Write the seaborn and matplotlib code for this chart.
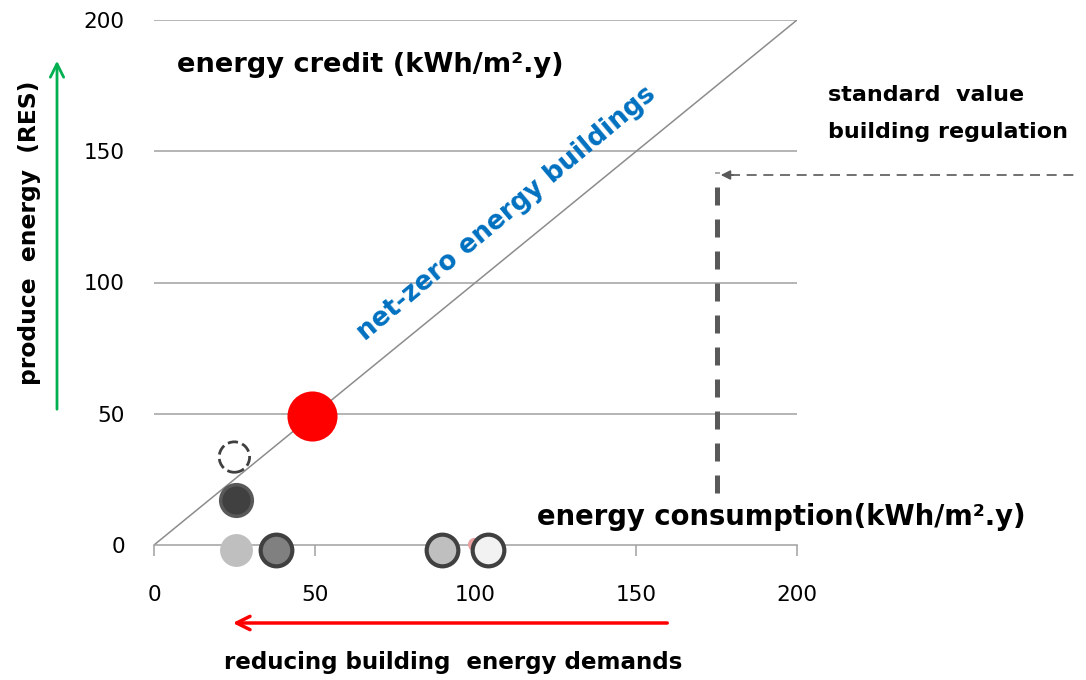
import matplotlib
matplotlib.use('Agg')
import matplotlib.pyplot as plt
from matplotlib.lines import Line2D
import seaborn as sns
import pandas as pd

# consumo x produção de energia (kWh/m2.y)
consumo = [49, 25, 25.5, 25.5, 38, 89.5, 99.5, 103.8]
producao = [49, 33.5, 17, -2, -2, -2, 0.5, -2]
ticks = [0, 50, 100, 150, 200]
diagonal = [0, 200]
regulacao_x = [175, 175]
regulacao_y = [20, 142]

# estilo de cada ponto (mesma ordem dos dados)
cores = ['#ff0000', 'none', '#404040', '#bfbfbf', '#808080', '#bfbfbf', '#eaa0a0', '#f2f2f2']
bordas = ['#ff0000', '#404040', '#595959', '#bfbfbf', '#404040', '#404040', '#eaa0a0', '#404040']
tamanhos = [1300, 480, 520, 560, 520, 520, 90, 520]
larguras = [0, 2, 2.5, 0, 3, 3, 0, 3]
tracos = ['-', '--', '-', '-', '-', '-', '-', '-']

W, H = 1086, 680

sns.set_theme(style='white')
plt.rcParams['font.family'] = ['DejaVu Sans']
plt.rcParams['text.color'] = 'black'

fig = plt.figure(figsize=(W / 100, H / 100), dpi=100)
ax = fig.add_axes([154 / W, 1 - 545 / H, (797 - 154) / W, (545 - 20) / H])

sns.lineplot(x=diagonal, y=diagonal, color='#8c8c8c', linewidth=1.1, ax=ax, zorder=2)
sns.lineplot(x=regulacao_x, y=regulacao_y, sort=False, estimator=None, color='#595959',
             linewidth=3.6, ax=ax, zorder=3)
ax.lines[-1].set_dashes((3.6, 2.8))

df = pd.DataFrame({'consumo': consumo, 'producao': producao})
for i in range(len(df)):
    sns.scatterplot(data=df.iloc[[i]], x='consumo', y='producao', s=tamanhos[i],
                    color=cores[i], edgecolor=bordas[i], linewidth=larguras[i],
                    linestyle=tracos[i], ax=ax, zorder=5 + (0 if i == 6 else 1), clip_on=False)

ax.set_xlim(0, 200)
ax.set_ylim(0, 200)
ax.set_xticks(ticks)
ax.set_yticks(ticks)
ax.set_xlabel('')
ax.set_ylabel('')
for y in ticks[1:]:
    ax.axhline(y, color='#a0a0a0', linewidth=1.1, zorder=1)
for s in ['top', 'right', 'left']:
    ax.spines[s].set_visible(False)
ax.spines['bottom'].set_color('#a0a0a0')
ax.spines['bottom'].set_linewidth(1.1)
ax.tick_params(axis='x', direction='out', length=8, width=1.1, color='#a0a0a0', pad=21,
               labelsize=15.5, labelcolor='black', bottom=True)
ax.tick_params(axis='y', length=0, pad=21, labelsize=15.5, labelcolor='black')


def texto(x, y, s, **kw):
    fig.text(x / W, 1 - y / H, s, fontweight='bold', **kw)


texto(177, 65, 'energy credit (kWh/m\u00b2.y)', fontsize=19.6, va='center', ha='left')
texto(828, 95, 'standard  value', fontsize=16, va='center', ha='left')
texto(828, 132, 'building regulation', fontsize=16, va='center', ha='left')
texto(537, 517, 'energy consumption(kWh/m\u00b2.y)', fontsize=19.8, va='center', ha='left')
texto(507, 214, 'net-zero energy buildings', fontsize=18.8, va='center', ha='center',
      rotation=40, color='#0070c0', rotation_mode='anchor')
texto(30, 233, 'produce  energy  (RES)', fontsize=16.8, va='center', ha='center', rotation=90)
texto(224, 663, 'reducing building  energy demands', fontsize=16.6, va='center', ha='left')


def fp(x, y):
    return (x / W, 1 - y / H)


# setas
ax.annotate('', xy=fp(57, 58), xytext=fp(57, 412), xycoords='figure fraction',
            arrowprops=dict(arrowstyle='->', color='#00b050', lw=2, mutation_scale=24))
ax.annotate('', xy=fp(230, 623), xytext=fp(670, 623), xycoords='figure fraction',
            arrowprops=dict(arrowstyle='->', color='#ff0000', lw=2.5, mutation_scale=24))
fig.add_artist(Line2D([730 / W, 1078 / W], [1 - 175 / H, 1 - 175 / H], color='#595959',
                      lw=1.2, linestyle=(0, (6, 4)), transform=fig.transFigure))
ax.annotate('', xy=fp(718, 175), xytext=fp(736, 175), xycoords='figure fraction',
            arrowprops=dict(arrowstyle='-|>', color='#595959', lw=1.2, mutation_scale=14))

fig.savefig('out.png', dpi=100)
